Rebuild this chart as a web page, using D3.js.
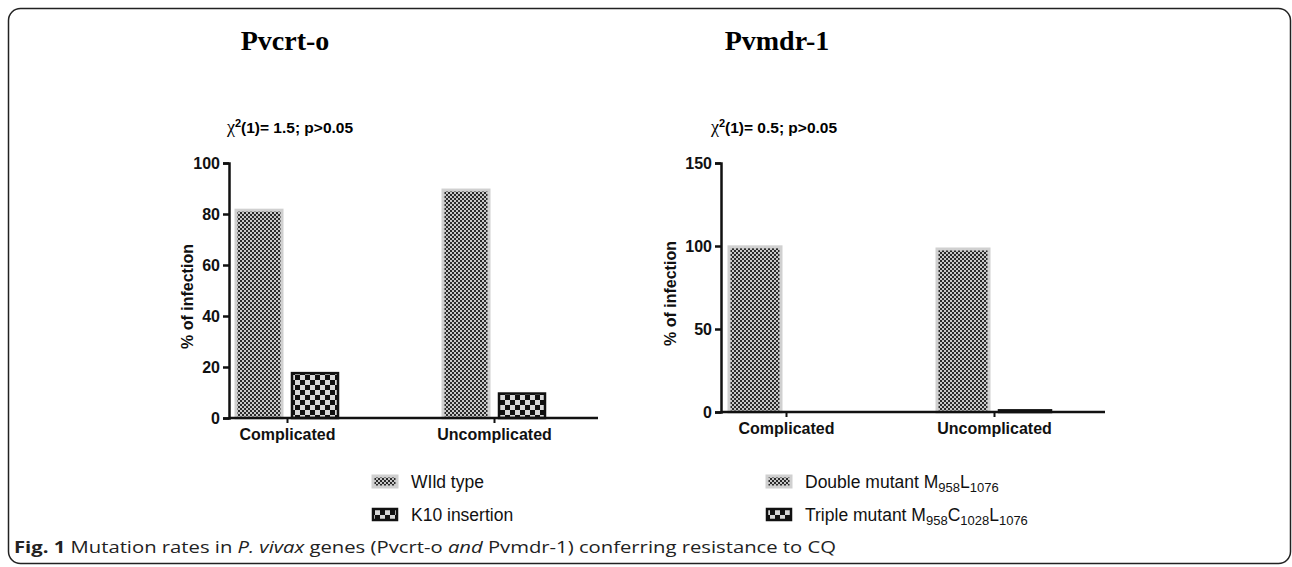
<!DOCTYPE html>
<html><head><meta charset="utf-8">
<script src="https://cdn.jsdelivr.net/npm/d3@7"></script>
<style>body{margin:0;background:#fff}svg{display:block}</style>
</head><body>
<script>
// ---- data ----
const categories = ["Complicated", "Uncomplicated"];
const crtSeries = ["WIld type", "K10 insertion"];
const crtWild = [81.5, 89.4];
const crtK10 = [17.6, 9.6];
const mdrSeries = ["Double mutant", "Triple mutant"];
const mdrDouble = [99.5, 98.2];
const mdrTriple = [0, 1.0];
const crtTicks = [0, 20, 40, 60, 80, 100];
const mdrTicks = [0, 50, 100, 150];

const W = 1292, H = 567;
const svg = d3.select("body").append("svg").attr("width", W).attr("height", H);
const defs = svg.append("defs");
const SANS = "Liberation Sans, Arial, sans-serif";

// fine pattern
const pf = defs.append("pattern").attr("id", "fine").attr("patternUnits", "userSpaceOnUse").attr("width", 4).attr("height", 4);
pf.append("rect").attr("width", 4).attr("height", 4).attr("fill", "#c8c8c8");
pf.append("rect").attr("width", 2).attr("height", 2).attr("fill", "#2a2a2a");
pf.append("rect").attr("x", 2).attr("y", 2).attr("width", 2).attr("height", 2).attr("fill", "#2a2a2a");
// coarse pattern
const pc = defs.append("pattern").attr("id", "coarse").attr("patternUnits", "userSpaceOnUse").attr("width", 10).attr("height", 10);
pc.append("rect").attr("width", 10).attr("height", 10).attr("fill", "#d8d8d8");
pc.append("rect").attr("width", 5).attr("height", 5).attr("fill", "#111");
pc.append("rect").attr("x", 5).attr("y", 5).attr("width", 5).attr("height", 5).attr("fill", "#111");

// frame
svg.append("rect").attr("x", 8.5).attr("y", 8.5).attr("width", 1282).attr("height", 555)
  .attr("rx", 12).attr("fill", "none").attr("stroke", "#222").attr("stroke-width", 1.5);

function panel(cfg) {
  const g = svg.append("g");
  const y = d3.scaleLinear().domain([0, cfg.ymax]).range([cfg.y0, cfg.y1]);
  const x = d3.scalePoint().domain(categories).range(cfg.centers);
  const bw = cfg.bw, gap = cfg.gap;

  // title
  g.append("text").attr("x", cfg.titleX).attr("y", 50).attr("text-anchor", "middle")
    .attr("font-family", "Liberation Serif, Times New Roman, serif").attr("font-weight", "bold")
    .attr("font-size", 28).text(cfg.title);
  // chi
  const chi = g.append("text").attr("x", cfg.chiX).attr("y", 133).attr("text-anchor", "middle")
    .attr("font-family", SANS).attr("font-weight", "bold").attr("font-size", 15.5);
  chi.append("tspan").attr("font-family", "Liberation Serif, serif").attr("font-weight", "normal").attr("font-size", 18).text("χ");
  chi.append("tspan").attr("dy", -6).attr("font-size", 11).text("2");
  chi.append("tspan").attr("dy", 6).text(cfg.chiText);

  // bars
  const s1 = cfg.s1, s2 = cfg.s2;
  g.selectAll(".b1").data(categories).join("rect")
    .attr("x", d => x(d) - gap / 2 - bw).attr("width", bw)
    .attr("y", (d, i) => y(s1[i])).attr("height", (d, i) => y(0) - y(s1[i]))
    .attr("fill", "url(#fine)").attr("stroke", "#d0d0d0").attr("stroke-width", 3);
  g.selectAll(".b2").data(categories).join("rect")
    .attr("x", d => x(d) + gap / 2).attr("width", bw)
    .attr("y", (d, i) => y(s2[i])).attr("height", (d, i) => Math.max(0, y(0) - y(s2[i])))
    .attr("fill", "url(#coarse)").attr("stroke", "#111").attr("stroke-width", 2.5);

  // y axis
  const ya = g.append("g").attr("transform", `translate(${cfg.x0},0)`)
    .call(d3.axisLeft(y).tickValues(cfg.ticks).tickSize(6).tickPadding(3).tickFormat(d3.format("d")));
  ya.select(".domain").attr("stroke-width", 2.5).attr("stroke", "#111");
  ya.selectAll(".tick line").attr("stroke-width", 2.5).attr("stroke", "#111");
  ya.selectAll("text").attr("font-family", SANS).attr("font-weight", "bold")
    .attr("font-size", 16).attr("fill", "#111");
  // y label
  g.append("text").attr("transform", `translate(${cfg.x0 - cfg.labOff},${(cfg.y0 + cfg.y1) / 2 + 6}) rotate(-90)`)
    .attr("text-anchor", "middle").attr("font-family", SANS)
    .attr("font-weight", "bold").attr("font-size", 16).attr("fill", "#111").text("% of infection");

  // x axis
  const xa = g.append("g").attr("transform", `translate(0,${cfg.y0})`)
    .call(d3.axisBottom(x).tickSize(5).tickPadding(6));
  xa.select(".domain").remove();
  xa.append("line").attr("x1", cfg.x0).attr("x2", cfg.xEnd).attr("stroke", "#111").attr("stroke-width", 2.5);
  xa.selectAll(".tick line").attr("stroke-width", 2).attr("stroke", "#111");
  xa.selectAll("text").attr("font-family", SANS).attr("font-weight", "bold")
    .attr("font-size", 16).attr("fill", "#111");

  // legend
  const lg = g.append("g");
  cfg.legend.forEach((L, i) => {
    const ly = cfg.legY + i * 33;
    lg.append("rect").attr("x", cfg.legX).attr("y", ly - 6).attr("width", 24).attr("height", 11)
      .attr("fill", i === 0 ? "url(#fine)" : "url(#coarse)")
      .attr("stroke", i === 0 ? "#d0d0d0" : "#111").attr("stroke-width", i === 0 ? 3 : 2.5);
    const t = lg.append("text").attr("x", cfg.legX + 38).attr("y", ly + 6)
      .attr("font-family", SANS).attr("font-size", 17.5).attr("fill", "#111");
    L.forEach(part => {
      if (part.sub) t.append("tspan").attr("dy", 4).attr("font-size", 13).text(part.t);
      else t.append("tspan").attr("dy", part.after ? -4 : 0).text(part.t);
    });
  });
}

panel({
  title: "Pvcrt-o", titleX: 285, chiX: 290, chiText: "(1)= 1.5; p>0.05",
  ymax: 100, ticks: crtTicks, y0: 418, y1: 163, x0: 229, xEnd: 598, labOff: 36,
  centers: [287, 494], bw: 46, gap: 10, s1: crtWild, s2: crtK10,
  legX: 373, legY: 482,
  legend: [[{ t: crtSeries[0] }], [{ t: crtSeries[1] }]]
});
panel({
  title: "Pvmdr-1", titleX: 777, chiX: 774, chiText: "(1)= 0.5; p>0.05",
  ymax: 150, ticks: mdrTicks, y0: 412, y1: 163, x0: 721, xEnd: 1105, labOff: 45,
  centers: [786, 994], bw: 52, gap: 10, s1: mdrDouble, s2: mdrTriple,
  legX: 767, legY: 482,
  legend: [
    [{ t: mdrSeries[0] + " M" }, { t: "958", sub: true }, { t: "L", after: true }, { t: "1076", sub: true }],
    [{ t: mdrSeries[1] + " M" }, { t: "958", sub: true }, { t: "C", after: true }, { t: "1028", sub: true }, { t: "L", after: true }, { t: "1076", sub: true }]
  ]
});

// caption
const cap = svg.append("text").attr("x", 14).attr("y", 553)
  .attr("font-family", "Open Sans, sans-serif").attr("font-size", 16).attr("fill", "#222")
  .attr("textLength", 822).attr("lengthAdjust", "spacingAndGlyphs");
cap.append("tspan").attr("font-weight", "bold").text("Fig. 1");
cap.append("tspan").text(" Mutation rates in ");
cap.append("tspan").attr("font-style", "italic").text("P. vivax");
cap.append("tspan").text(" genes (Pvcrt-o ");
cap.append("tspan").attr("font-style", "italic").text("and");
cap.append("tspan").text(" Pvmdr-1) conferring resistance to CQ");
</script>
</body></html>
